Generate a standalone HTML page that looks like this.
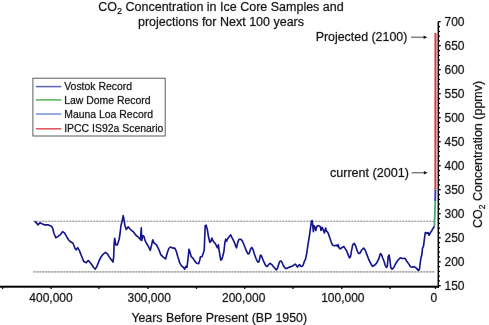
<!DOCTYPE html><html><head><meta charset="utf-8"><style>
html,body{margin:0;padding:0;background:#fff;width:489px;height:325px;overflow:hidden}
svg{display:block;will-change:transform}
text{font-family:"Liberation Sans",sans-serif;fill:#151515;stroke:#999;stroke-width:0.5px;paint-order:stroke;stroke-linejoin:round}
</style></head><body>
<svg width="489" height="325" viewBox="0 0 489 325">
<g>
<text x="221" y="10.9" font-size="12.5" text-anchor="middle">CO<tspan font-size="9" dy="3">2</tspan><tspan dy="-3"> Concentration in Ice Core Samples and</tspan></text>
<text x="221" y="26.1" font-size="12.5" text-anchor="middle">projections for Next 100 years</text>
<line x1="33.5" y1="221.2" x2="434.5" y2="221.2" stroke="#d2d2d2" stroke-width="1.1"/>
<line x1="33.5" y1="221.2" x2="434.5" y2="221.2" stroke="#8e8e8e" stroke-width="1.1" stroke-dasharray="1.6 1.4"/>
<line x1="33.5" y1="271.9" x2="434.5" y2="271.9" stroke="#d2d2d2" stroke-width="1.1"/>
<line x1="33.5" y1="271.9" x2="434.5" y2="271.9" stroke="#8e8e8e" stroke-width="1.1" stroke-dasharray="1.6 1.4"/>
<path d="M35.2 221.6 L38.0 224.9 L39.8 222.8 L42.0 223.8 L44.8 224.9 L48.5 224.9 L51.5 226.2 L52.8 228.6 L54.0 233.5 L55.8 237.8 L57.7 236.6 L60.2 234.8 L62.6 231.7 L64.5 232.9 L66.9 237.2 L68.7 240.0 L69.8 241.2 L73.0 243.3 L75.2 248.7 L76.2 249.8 L77.7 247.6 L79.5 250.9 L81.6 256.2 L83.8 261.6 L86.3 262.7 L88.1 260.5 L89.3 261.5 L91.5 264.3 L93.6 267.5 L95.3 269.2 L96.9 266.4 L99.0 261.0 L101.2 256.7 L103.3 254.1 L105.5 252.4 L107.6 254.1 L109.8 257.8 L111.9 260.6 L113.0 262.1 L113.7 256.7 L114.1 243.8 L114.7 238.4 L115.8 244.9 L117.3 244.9 L119.1 239.5 L120.1 233.0 L121.0 225.5 L122.1 221.2 L123.2 215.6 L124.2 221.0 L125.0 226.0 L126.3 229.5 L128.2 226.8 L129.5 228.5 L131.4 230.3 L133.1 231.6 L134.6 233.5 L136.2 235.5 L138.6 237.4 L140.5 239.8 L141.3 227.8 L141.7 240.5 L142.9 235.5 L144.2 236.8 L144.8 239.8 L146.6 243.5 L148.5 246.6 L150.3 250.3 L151.5 245.4 L152.8 239.8 L154.0 242.9 L156.5 244.8 L158.9 249.7 L160.8 254.6 L163.2 257.1 L165.7 258.9 L166.9 254.0 L168.8 248.5 L170.5 247.0 L172.7 248.1 L174.8 248.1 L176.3 251.3 L177.8 256.7 L178.2 257.8 L179.7 262.8 L181.5 265.8 L183.6 267.5 L184.7 269.2 L185.8 266.4 L186.9 267.5 L187.9 260.0 L189.0 249.2 L190.1 252.4 L191.2 256.7 L192.7 257.8 L194.4 260.6 L196.6 263.2 L198.7 263.6 L199.8 260.0 L200.4 256.7 L201.9 256.7 L203.0 254.0 L204.2 250.3 L205.2 225.7 L206.1 225.1 L207.3 229.4 L208.5 236.8 L209.8 242.3 L211.0 241.1 L211.9 238.0 L212.8 240.5 L214.1 242.3 L215.3 243.5 L216.5 246.0 L217.5 247.8 L218.4 244.8 L219.0 249.7 L220.0 255.8 L220.8 260.2 L221.7 259.5 L222.7 256.5 L223.9 251.5 L224.9 242.3 L225.8 239.2 L226.6 241.1 L227.4 239.2 L228.4 237.8 L229.5 236.2 L230.7 234.9 L231.6 236.8 L232.5 238.6 L233.8 241.1 L234.8 243.5 L235.6 246.0 L236.5 247.8 L237.5 243.5 L238.7 239.8 L239.9 239.2 L241.2 239.4 L242.5 241.2 L244.3 245.5 L246.2 250.5 L248.0 253.9 L249.2 253.5 L250.5 249.2 L251.7 247.4 L252.9 249.2 L254.2 253.5 L256.0 258.5 L257.8 262.2 L259.1 261.5 L260.3 255.4 L261.2 255.4 L262.2 257.8 L264.0 262.2 L265.8 265.8 L267.1 266.5 L268.9 264.2 L270.2 263.4 L271.8 264.6 L273.2 266.5 L275.1 268.3 L276.3 269.9 L277.5 268.3 L278.8 264.0 L279.7 261.5 L280.9 260.9 L282.2 262.8 L283.4 265.8 L285.2 268.3 L287.1 268.3 L289.5 267.1 L292.0 266.2 L294.5 264.6 L295.4 264.2 L296.3 265.2 L297.5 267.1 L298.8 265.2 L299.6 264.6 L300.6 266.2 L301.8 266.5 L303.1 265.2 L304.3 261.5 L305.5 259.1 L306.8 252.9 L308.0 244.3 L309.3 236.6 L310.5 228.0 L311.4 221.2 L312.1 220.6 L312.6 224.3 L313.4 231.7 L313.9 225.5 L314.8 226.8 L315.8 230.5 L316.7 226.8 L317.9 225.5 L319.1 226.0 L320.4 226.8 L321.0 230.5 L322.2 227.4 L323.5 230.5 L324.4 232.9 L325.7 228.0 L326.5 231.1 L327.8 232.3 L329.0 235.4 L330.2 239.1 L331.5 242.8 L332.7 245.2 L334.5 245.8 L336.4 245.2 L337.6 246.5 L338.2 244.6 L338.9 247.5 L340.1 248.9 L341.9 247.7 L343.8 246.5 L344.9 248.1 L346.6 250.7 L348.1 254.6 L349.4 257.8 L350.5 256.7 L351.6 250.3 L352.7 244.9 L354.2 243.4 L355.7 246.0 L357.0 250.3 L358.5 253.5 L359.7 253.5 L361.5 250.3 L363.6 248.1 L365.3 250.3 L366.9 254.6 L369.0 260.0 L371.2 264.3 L372.7 266.4 L374.4 265.3 L376.6 263.2 L378.7 258.9 L380.4 253.5 L381.5 254.6 L382.6 257.8 L384.1 261.5 L385.2 265.3 L386.5 267.5 L387.3 266.4 L388.2 256.7 L389.1 255.0 L389.9 260.0 L390.8 267.5 L392.1 269.2 L393.8 267.5 L395.9 263.2 L398.1 260.0 L400.3 257.8 L402.4 258.5 L405.0 258.4 L406.8 261.2 L408.7 263.9 L410.5 266.7 L412.4 267.1 L414.2 266.7 L415.7 267.6 L417.0 268.9 L418.3 270.4 L419.4 269.5 L420.7 259.3 L422.0 253.8 L422.5 248.2 L423.5 246.4 L424.4 239.0 L425.3 232.5 L426.8 233.5 L428.1 232.5 L429.0 235.3 L430.5 232.5 L431.8 230.7 L432.9 228.6 L434.3 226.5" fill="none" stroke="#16168c" stroke-width="1.65" stroke-linejoin="round" stroke-linecap="round"/>
<path d="M434.3 226.5 L434.9 214 L435.2 201" fill="none" stroke="#4fae7e" stroke-width="1.9"/>
<line x1="435.2" y1="201" x2="435.4" y2="189.2" stroke="#2f3fc8" stroke-width="1.9"/>
<line x1="435.4" y1="189.2" x2="435.5" y2="33.1" stroke="#d63d45" stroke-width="2.1"/>
<rect x="0" y="285.7" width="439.05" height="2.0" fill="#000"/>
<rect x="437.55" y="21.7" width="1.5" height="266.0" fill="#000"/>
<line x1="435.50" y1="286.7" x2="435.50" y2="288.9" stroke="#000" stroke-width="1.3"/>
<line x1="390.10" y1="286.7" x2="390.10" y2="288.9" stroke="#000" stroke-width="1.3"/>
<line x1="341.70" y1="286.7" x2="341.70" y2="288.9" stroke="#000" stroke-width="1.3"/>
<line x1="292.90" y1="286.7" x2="292.90" y2="288.9" stroke="#000" stroke-width="1.3"/>
<line x1="244.70" y1="286.7" x2="244.70" y2="288.9" stroke="#000" stroke-width="1.3"/>
<line x1="196.50" y1="286.7" x2="196.50" y2="288.9" stroke="#000" stroke-width="1.3"/>
<line x1="148.00" y1="286.7" x2="148.00" y2="288.9" stroke="#000" stroke-width="1.3"/>
<line x1="98.90" y1="286.7" x2="98.90" y2="288.9" stroke="#000" stroke-width="1.3"/>
<line x1="51.20" y1="286.7" x2="51.20" y2="288.9" stroke="#000" stroke-width="1.3"/>
<line x1="2.60" y1="286.7" x2="2.60" y2="288.9" stroke="#000" stroke-width="1.3"/>
<line x1="438.3" y1="285.70" x2="440.70" y2="285.70" stroke="#000" stroke-width="1.3"/>
<line x1="438.3" y1="280.90" x2="440.00" y2="280.90" stroke="#000" stroke-width="1.25"/>
<line x1="438.3" y1="276.10" x2="440.00" y2="276.10" stroke="#000" stroke-width="1.25"/>
<line x1="438.3" y1="271.30" x2="440.00" y2="271.30" stroke="#000" stroke-width="1.25"/>
<line x1="438.3" y1="266.50" x2="440.00" y2="266.50" stroke="#000" stroke-width="1.25"/>
<line x1="438.3" y1="261.70" x2="440.70" y2="261.70" stroke="#000" stroke-width="1.3"/>
<line x1="438.3" y1="256.90" x2="440.00" y2="256.90" stroke="#000" stroke-width="1.25"/>
<line x1="438.3" y1="252.10" x2="440.00" y2="252.10" stroke="#000" stroke-width="1.25"/>
<line x1="438.3" y1="247.30" x2="440.00" y2="247.30" stroke="#000" stroke-width="1.25"/>
<line x1="438.3" y1="242.50" x2="440.00" y2="242.50" stroke="#000" stroke-width="1.25"/>
<line x1="438.3" y1="237.70" x2="440.70" y2="237.70" stroke="#000" stroke-width="1.3"/>
<line x1="438.3" y1="232.90" x2="440.00" y2="232.90" stroke="#000" stroke-width="1.25"/>
<line x1="438.3" y1="228.10" x2="440.00" y2="228.10" stroke="#000" stroke-width="1.25"/>
<line x1="438.3" y1="223.30" x2="440.00" y2="223.30" stroke="#000" stroke-width="1.25"/>
<line x1="438.3" y1="218.50" x2="440.00" y2="218.50" stroke="#000" stroke-width="1.25"/>
<line x1="438.3" y1="213.70" x2="440.70" y2="213.70" stroke="#000" stroke-width="1.3"/>
<line x1="438.3" y1="208.90" x2="440.00" y2="208.90" stroke="#000" stroke-width="1.25"/>
<line x1="438.3" y1="204.10" x2="440.00" y2="204.10" stroke="#000" stroke-width="1.25"/>
<line x1="438.3" y1="199.30" x2="440.00" y2="199.30" stroke="#000" stroke-width="1.25"/>
<line x1="438.3" y1="194.50" x2="440.00" y2="194.50" stroke="#000" stroke-width="1.25"/>
<line x1="438.3" y1="189.70" x2="440.70" y2="189.70" stroke="#000" stroke-width="1.3"/>
<line x1="438.3" y1="184.90" x2="440.00" y2="184.90" stroke="#000" stroke-width="1.25"/>
<line x1="438.3" y1="180.10" x2="440.00" y2="180.10" stroke="#000" stroke-width="1.25"/>
<line x1="438.3" y1="175.30" x2="440.00" y2="175.30" stroke="#000" stroke-width="1.25"/>
<line x1="438.3" y1="170.50" x2="440.00" y2="170.50" stroke="#000" stroke-width="1.25"/>
<line x1="438.3" y1="165.70" x2="440.70" y2="165.70" stroke="#000" stroke-width="1.3"/>
<line x1="438.3" y1="160.90" x2="440.00" y2="160.90" stroke="#000" stroke-width="1.25"/>
<line x1="438.3" y1="156.10" x2="440.00" y2="156.10" stroke="#000" stroke-width="1.25"/>
<line x1="438.3" y1="151.30" x2="440.00" y2="151.30" stroke="#000" stroke-width="1.25"/>
<line x1="438.3" y1="146.50" x2="440.00" y2="146.50" stroke="#000" stroke-width="1.25"/>
<line x1="438.3" y1="141.70" x2="440.70" y2="141.70" stroke="#000" stroke-width="1.3"/>
<line x1="438.3" y1="136.90" x2="440.00" y2="136.90" stroke="#000" stroke-width="1.25"/>
<line x1="438.3" y1="132.10" x2="440.00" y2="132.10" stroke="#000" stroke-width="1.25"/>
<line x1="438.3" y1="127.30" x2="440.00" y2="127.30" stroke="#000" stroke-width="1.25"/>
<line x1="438.3" y1="122.50" x2="440.00" y2="122.50" stroke="#000" stroke-width="1.25"/>
<line x1="438.3" y1="117.70" x2="440.70" y2="117.70" stroke="#000" stroke-width="1.3"/>
<line x1="438.3" y1="112.90" x2="440.00" y2="112.90" stroke="#000" stroke-width="1.25"/>
<line x1="438.3" y1="108.10" x2="440.00" y2="108.10" stroke="#000" stroke-width="1.25"/>
<line x1="438.3" y1="103.30" x2="440.00" y2="103.30" stroke="#000" stroke-width="1.25"/>
<line x1="438.3" y1="98.50" x2="440.00" y2="98.50" stroke="#000" stroke-width="1.25"/>
<line x1="438.3" y1="93.70" x2="440.70" y2="93.70" stroke="#000" stroke-width="1.3"/>
<line x1="438.3" y1="88.90" x2="440.00" y2="88.90" stroke="#000" stroke-width="1.25"/>
<line x1="438.3" y1="84.10" x2="440.00" y2="84.10" stroke="#000" stroke-width="1.25"/>
<line x1="438.3" y1="79.30" x2="440.00" y2="79.30" stroke="#000" stroke-width="1.25"/>
<line x1="438.3" y1="74.50" x2="440.00" y2="74.50" stroke="#000" stroke-width="1.25"/>
<line x1="438.3" y1="69.70" x2="440.70" y2="69.70" stroke="#000" stroke-width="1.3"/>
<line x1="438.3" y1="64.90" x2="440.00" y2="64.90" stroke="#000" stroke-width="1.25"/>
<line x1="438.3" y1="60.10" x2="440.00" y2="60.10" stroke="#000" stroke-width="1.25"/>
<line x1="438.3" y1="55.30" x2="440.00" y2="55.30" stroke="#000" stroke-width="1.25"/>
<line x1="438.3" y1="50.50" x2="440.00" y2="50.50" stroke="#000" stroke-width="1.25"/>
<line x1="438.3" y1="45.70" x2="440.70" y2="45.70" stroke="#000" stroke-width="1.3"/>
<line x1="438.3" y1="40.90" x2="440.00" y2="40.90" stroke="#000" stroke-width="1.25"/>
<line x1="438.3" y1="36.10" x2="440.00" y2="36.10" stroke="#000" stroke-width="1.25"/>
<line x1="438.3" y1="31.30" x2="440.00" y2="31.30" stroke="#000" stroke-width="1.25"/>
<line x1="438.3" y1="26.50" x2="440.00" y2="26.50" stroke="#000" stroke-width="1.25"/>
<line x1="438.3" y1="21.70" x2="440.70" y2="21.70" stroke="#000" stroke-width="1.3"/>
<text x="444.5" y="290.00" font-size="12">150</text>
<text x="444.5" y="266.00" font-size="12">200</text>
<text x="444.5" y="242.00" font-size="12">250</text>
<text x="444.5" y="218.00" font-size="12">300</text>
<text x="444.5" y="194.00" font-size="12">350</text>
<text x="444.5" y="170.00" font-size="12">400</text>
<text x="444.5" y="146.00" font-size="12">450</text>
<text x="444.5" y="122.00" font-size="12">500</text>
<text x="444.5" y="98.00" font-size="12">550</text>
<text x="444.5" y="74.00" font-size="12">600</text>
<text x="444.5" y="50.00" font-size="12">650</text>
<text x="444.5" y="26.00" font-size="12">700</text>
<text x="433.80" y="301.6" font-size="12" text-anchor="middle">0</text>
<text x="342.85" y="301.6" font-size="12" text-anchor="middle">100,000</text>
<text x="243.65" y="301.6" font-size="12" text-anchor="middle">200,000</text>
<text x="149.20" y="301.6" font-size="12" text-anchor="middle">300,000</text>
<text x="51.00" y="301.6" font-size="12" text-anchor="middle">400,000</text>
<text x="219.25" y="321.9" font-size="12.35" text-anchor="middle">Years Before Present (BP 1950)</text>
<text transform="translate(482.3,154.4) rotate(-90)" font-size="12.5" text-anchor="middle">CO<tspan font-size="8.5" dy="3">2</tspan><tspan dy="-3"> Concentration (ppmv)</tspan></text>
<text x="407.3" y="41.2" font-size="12.4" text-anchor="end">Projected (2100)</text>
<line x1="411" y1="37.2" x2="424" y2="37.2" stroke="#444" stroke-width="1"/>
<path d="M423.6 35.4 L427.3 37.2 L423.6 39 Z" fill="#111"/>
<text x="409" y="176.6" font-size="12.6" text-anchor="end">current (2001)</text>
<line x1="411.6" y1="172.8" x2="424.3" y2="172.8" stroke="#444" stroke-width="1"/>
<path d="M423.9 171 L427.6 172.8 L423.9 174.6 Z" fill="#111"/>
<rect x="32.9" y="78.2" width="132.3" height="57.8" fill="#fff" stroke="#4a4a4a" stroke-width="0.9"/>
<line x1="35.9" y1="86.60" x2="61.3" y2="86.60" stroke="#6262b0" stroke-width="1.5"/>
<text x="64.2" y="89.60" font-size="10.45">Vostok Record</text>
<line x1="35.9" y1="99.90" x2="61.3" y2="99.90" stroke="#58b058" stroke-width="1.5"/>
<text x="64.2" y="103.50" font-size="10.45">Law Dome Record</text>
<line x1="35.9" y1="114.00" x2="61.3" y2="114.00" stroke="#6f92e2" stroke-width="1.5"/>
<text x="64.2" y="117.50" font-size="10.45">Mauna Loa Record</text>
<line x1="35.9" y1="128.80" x2="61.3" y2="128.80" stroke="#e2505a" stroke-width="1.5"/>
<text x="64.2" y="131.60" font-size="10.45">IPCC IS92a Scenario</text>
</g></svg></body></html>
